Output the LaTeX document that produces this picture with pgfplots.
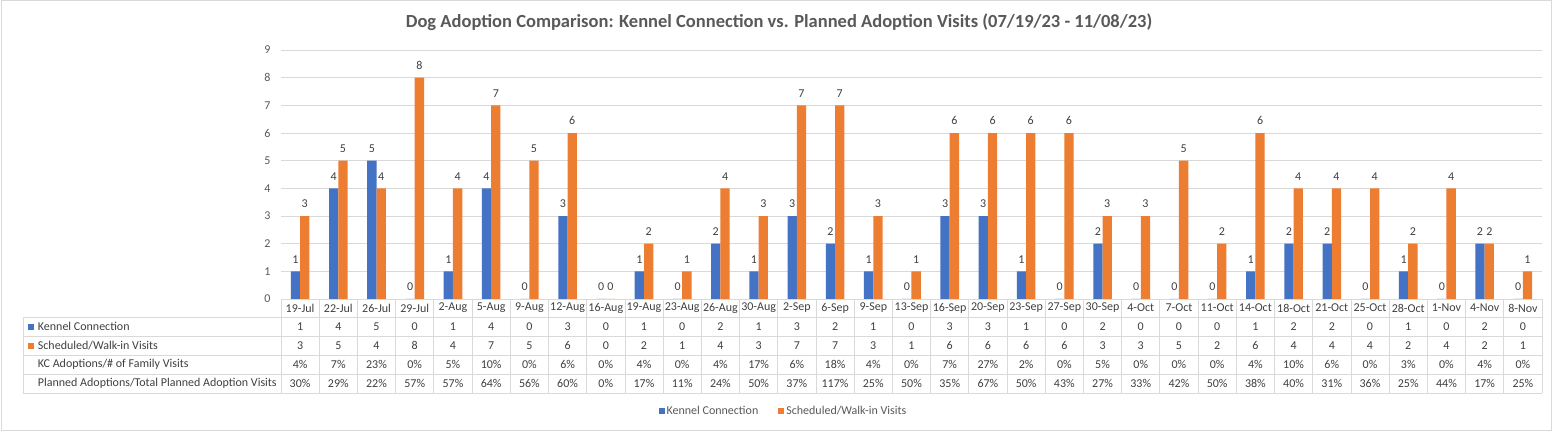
\documentclass[border=0pt]{standalone}
\usepackage{fontspec}
\setmainfont{Carlito}
\usepackage{pgfplots}
\usepackage{pgfplotstable}
\pgfplotsset{compat=1.18}
\definecolor{kcblue}{HTML}{4472C4}
\definecolor{sworange}{HTML}{ED7D31}
\definecolor{txt}{HTML}{595959}
\definecolor{dtxt}{HTML}{404040}
\definecolor{gridc}{HTML}{D9D9D9}

\pgfplotstableread{
i date kc sw kcp pap
0 19-Jul 1 3 4 30
1 22-Jul 4 5 7 29
2 26-Jul 5 4 23 22
3 29-Jul 0 8 0 57
4 2-Aug 1 4 5 57
5 5-Aug 4 7 10 64
6 9-Aug 0 5 0 56
7 12-Aug 3 6 6 60
8 16-Aug 0 0 0 0
9 19-Aug 1 2 4 17
10 23-Aug 0 1 0 11
11 26-Aug 2 4 4 24
12 30-Aug 1 3 17 50
13 2-Sep 3 7 6 37
14 6-Sep 2 7 18 117
15 9-Sep 1 3 4 25
16 13-Sep 0 1 0 50
17 16-Sep 3 6 7 35
18 20-Sep 3 6 27 67
19 23-Sep 1 6 2 50
20 27-Sep 0 6 0 43
21 30-Sep 2 3 5 27
22 4-Oct 0 3 0 33
23 7-Oct 0 5 0 42
24 11-Oct 0 2 0 50
25 14-Oct 1 6 4 38
26 18-Oct 2 4 10 40
27 21-Oct 2 4 6 31
28 25-Oct 0 4 0 36
29 28-Oct 1 2 3 25
30 1-Nov 0 4 0 44
31 4-Nov 2 2 4 17
32 8-Nov 0 1 0 25
}\data

\newcommand{\fs}{\fontsize{12}{14}\selectfont}

\begin{document}
\begin{tikzpicture}
\useasboundingbox (0,0) rectangle (1557pt,431pt);
\fill[white] (0,0) rectangle (1557pt,431pt);
\draw[gridc, line width=0.8pt] (1.5pt,0.5pt) rectangle (1551.5pt,430.5pt);
\node[font=\bfseries\fontsize{18.5}{22}\selectfont, text=txt] at (779pt,409pt) {Dog Adoption Comparison: Kennel Connection vs. Planned Adoption Visits (07/19/23 - 11/08/23)};
\begin{axis}[
  at={(281pt,132pt)}, anchor=south west,
  scale only axis, width=1261pt, height=249pt,
  xmin=-0.5, xmax=32.5, ymin=0, ymax=9,
  ytick={0,...,9},
  xtick=data, xticklabels from table={\data}{date},
  /pgf/number format/assume math mode=true,
  clip=false,
  axis line style={draw=none},
  major tick length=0pt,
  ymajorgrids,
  major grid style={gridc, line width=0.8pt},
  tick label style={font=\fs},
  yticklabel style={text=txt, xshift=-7pt},
  xticklabel style={text=dtxt, anchor=center, yshift=-9pt},
  legend style={at={(0.3985,-0.45)}, anchor=center, draw=none, fill=none,
    font=\fs, text=txt, legend columns=2,
    /tikz/every even column/.append style={column sep=18pt}},
  legend cell align=left,
]
\addplot[ybar, bar width=9.3pt, bar shift=-4.65pt, fill=kcblue, draw=none,
  nodes near coords,
  every node near coord/.append style={font=\fs, text=dtxt, inner sep=0pt, yshift=8pt, xshift=-4.65pt},
  legend image code/.code={\fill[kcblue] (0pt,-3pt) rectangle (6pt,3pt);}]
  table[x=i, y=kc] {\data};
\addlegendentry{Kennel Connection}
\addplot[ybar, bar width=9.3pt, bar shift=4.65pt, fill=sworange, draw=none,
  nodes near coords,
  every node near coord/.append style={font=\fs, text=dtxt, inner sep=0pt, yshift=8pt, xshift=4.65pt},
  legend image code/.code={\fill[sworange] (0pt,-3pt) rectangle (6pt,3pt);}]
  table[x=i, y=sw] {\data};
\addlegendentry{Scheduled/Walk-in Visits}
% table rows
\addplot[draw=none, mark=none, forget plot, point meta=explicit,
  nodes near coords, nodes near coords align=center,
  every node near coord/.append style={font=\fs, text=dtxt, anchor=center}]
  table[x=i, y expr=-1.001, meta=kc] {\data};
\addplot[draw=none, mark=none, forget plot, point meta=explicit,
  nodes near coords, nodes near coords align=center,
  every node near coord/.append style={font=\fs, text=dtxt, anchor=center}]
  table[x=i, y expr=-1.688, meta=sw] {\data};
\addplot[draw=none, mark=none, forget plot, point meta=explicit,
  nodes near coords={\pgfmathprintnumber{\pgfplotspointmeta}\%}, nodes near coords align=center,
  every node near coord/.append style={font=\fs, text=dtxt, anchor=center}]
  table[x=i, y expr=-2.371, meta=kcp] {\data};
\addplot[draw=none, mark=none, forget plot, point meta=explicit,
  nodes near coords={\pgfmathprintnumber{\pgfplotspointmeta}\%}, nodes near coords align=center,
  every node near coord/.append style={font=\fs, text=dtxt, anchor=center}]
  table[x=i, y expr=-3.058, meta=pap] {\data};
\end{axis}
% table grid
\foreach \yy in {113.7,94.8,75.8,56.9,37.9}
  \draw[gridc, line width=0.8pt] (23pt,\yy pt) -- (1542pt,\yy pt);
\draw[gridc, line width=0.8pt] (281pt,132pt) -- (1542pt,132pt);
\foreach \k in {0,...,33}
  \draw[gridc, line width=0.8pt] ({281pt+\k*38.2121pt},132pt) -- ({281pt+\k*38.2121pt},37.9pt);
\draw[gridc, line width=0.8pt] (23pt,113.7pt) -- (23pt,37.9pt);
% row labels
\fill[kcblue] (28pt,101.3pt) rectangle (34pt,107.3pt);
\fill[sworange] (28pt,82.3pt) rectangle (34pt,88.3pt);
\node[anchor=west, inner sep=0pt, font=\fs, text=dtxt] at (37.7pt,104.3pt) {Kennel Connection};
\node[anchor=west, inner sep=0pt, font=\fs, text=dtxt] at (37.7pt,85.3pt) {Scheduled/Walk-in Visits};
\node[anchor=west, inner sep=0pt, font=\fs, text=dtxt] at (37.7pt,66.4pt) {KC Adoptions/\# of Family Visits};
\node[anchor=west, inner sep=0pt, font=\fs, text=dtxt] at (37.7pt,47.4pt) {Planned Adoptions/Total Planned Adoption Visits};
\end{tikzpicture}
\end{document}
